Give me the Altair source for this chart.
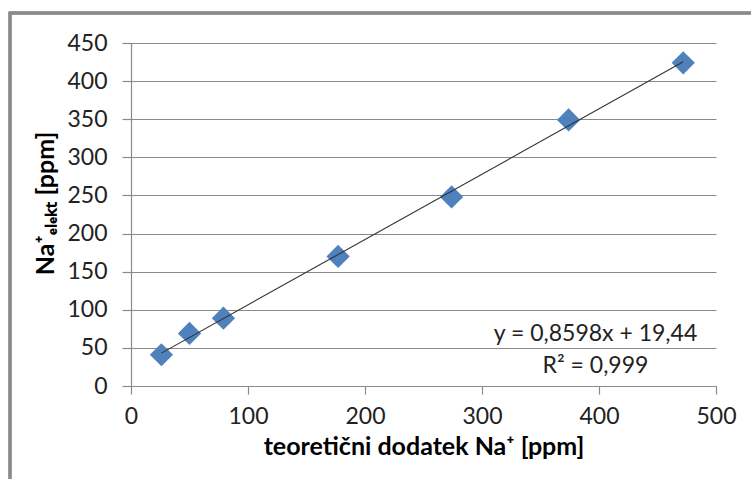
import altair as alt
import pandas as pd

# data
x_vals = [26, 50, 79, 177, 274, 374, 472]
y_vals = [41, 69, 89, 170, 248, 349, 424]

ann_text = ["y = 0,8598x + 19,44", "R\u00b2 = 0,999"]
ann_x = [397, 397]
ann_y = [68, 26]

x_ticks = [0, 100, 200, 300, 400, 500]
y_ticks = [0, 50, 100, 150, 200, 250, 300, 350, 400, 450]

df = pd.DataFrame({"x": x_vals, "y": y_vals})
ann = pd.DataFrame({"t": ann_text, "x": ann_x, "y": ann_y})

FONT = "Lato"
GRAY = "#8a8a8a"

xscale = alt.Scale(domain=[0, 500], nice=False)
yscale = alt.Scale(domain=[0, 450], nice=False)

xaxis = alt.Axis(values=x_ticks, grid=False, title="teoretični dodatek Na\u207a [ppm]",
                 titleFont=FONT, titleFontSize=25, titleFontWeight="bold", titleColor="#000000",
                 titlePadding=6,
                 labelFont=FONT, labelFontSize=23, labelColor="#222222", labelPadding=11,
                 labelFlush=False, labelOverlap=False,
                 tickSize=8, tickColor=GRAY, domainColor=GRAY, domainWidth=1.2, tickWidth=1.2)
yaxis = alt.Axis(values=y_ticks, grid=True, gridColor=GRAY, gridWidth=1.2,
                 title="Na\u207a\u2091\u2097\u2091\u2096\u209c [ppm]",
                 titleFont=FONT, titleFontSize=25, titleFontWeight="bold", titleColor="#000000",
                 titleAngle=270, titleAlign="center", titleBaseline="middle",
                 titleX=-86, titleY=160,
                 labelFont=FONT, labelFontSize=23, labelColor="#222222", labelPadding=15,
                 labelFlush=False, labelOverlap=False,
                 tickSize=9, tickColor=GRAY, domainColor=GRAY, domainWidth=1.2, tickWidth=1.2)

X = alt.X("x:Q", scale=xscale, axis=xaxis)
Y = alt.Y("y:Q", scale=yscale, axis=yaxis)

frame = alt.Chart(df).mark_rect(fill=None, stroke="#8a8a8a", strokeWidth=2.5, clip=False).encode(
    x=alt.value(-121), x2=alt.value(700), y=alt.value(-30), y2=alt.value(500)
)

points = alt.Chart(df).mark_point(shape="diamond", filled=True, size=540, color="#4F81BD", opacity=1).encode(
    x=X, y=Y,
)

trend = alt.Chart(df).transform_regression("x", "y").mark_line(color="#333333", strokeWidth=1.1).encode(
    x=X, y=Y,
)

text = alt.Chart(ann).mark_text(font=FONT, fontSize=23, color="#222222", align="center", baseline="middle").encode(
    x=X, y=Y,
    text="t:N",
)

chart = alt.layer(frame, points, trend, text).properties(
    width=585, height=343,
    autosize=alt.AutoSizeParams(type="none"),
    padding={"left": 131, "top": 43, "right": 35, "bottom": 93},
    background="white",
).configure_view(stroke=None)

chart.save("out.html", embed_options={"renderer": "svg", "actions": False})
